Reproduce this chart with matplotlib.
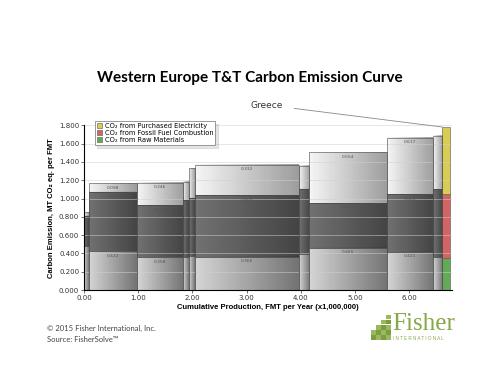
import numpy as np
import matplotlib.pyplot as plt
from matplotlib.colors import LinearSegmentedColormap
from matplotlib.patches import Patch, Rectangle

# capacity of each mill (million FMT/yr) and its CO2 breakdown (MT CO2 eq. per FMT)
capacity = [0.09, 0.88, 0.86, 0.11, 0.11, 1.91, 0.19, 1.44, 0.85, 0.17, 0.15]
raw_materials = [0.480, 0.422, 0.358, 0.360, 0.370, 0.366, 0.390, 0.465, 0.421, 0.360, 0.350]
fossil_fuel = [0.330, 0.646, 0.566, 0.620, 0.640, 0.669, 0.710, 0.486, 0.625, 0.740, 0.700]
electricity = [0.040, 0.098, 0.246, 0.200, 0.320, 0.332, 0.260, 0.554, 0.617, 0.580, 0.730]
show_values = [False, True, True, False, False, True, False, True, True, False, False]
highlight = "Greece"
highlight_idx = 10

legend_labels = ["CO\u2082 from Purchased Electricity",
                 "CO\u2082 from Fossil Fuel Combustion",
                 "CO\u2082 from Raw Materials"]
legend_colors = ["#d8cc55", "#d46464", "#62aa55"]

fig = plt.figure(figsize=(5, 3.9), dpi=100)
fig.patch.set_facecolor("white")
ax = fig.add_axes([0.168, 0.256, 0.735, 0.423])

cmaps = [
    LinearSegmentedColormap.from_list("raw", ["#d4d4d4", "#6c6c6c"]),
    LinearSegmentedColormap.from_list("fossil", ["#6a6a6a", "#3a3a3a"]),
    LinearSegmentedColormap.from_list("elec", ["#f6f6f6", "#989898"]),
]
grad = np.linspace(0, 1, 128).reshape(1, -1)

starts = np.concatenate([[0], np.cumsum(capacity)[:-1]])
for i, x0 in enumerate(starts):
    w = capacity[i]
    parts = [raw_materials[i], fossil_fuel[i], electricity[i]]
    bottom = 0.0
    for k, h in enumerate(parts):
        if i == highlight_idx:
            ax.add_patch(Rectangle((x0, bottom), w, h, facecolor=legend_colors[2 - k],
                                   edgecolor="#555555", lw=0.4, zorder=2))
        else:
            ax.imshow(grad, cmap=cmaps[k], extent=(x0, x0 + w, bottom, bottom + h),
                      aspect="auto", zorder=2, alpha=0.95)
            ax.add_patch(Rectangle((x0, bottom), w, h, facecolor="none",
                                   edgecolor="#4a4a4a", lw=0.4, zorder=3))
            if show_values[i]:
                ax.text(x0 + w / 2, bottom + h - 0.025, f"{h:.3f}", ha="center", va="top",
                        fontsize=3.2, color="#555555", zorder=4)
        bottom += h

ax.set_xlim(0, 6.78)
ax.set_ylim(0, 1.8)
ax.set_yticks(np.arange(0, 1.81, 0.2))
ax.set_yticklabels([f"{v:.3f}" for v in np.arange(0, 1.81, 0.2)])
ax.set_xticks(range(7))
ax.set_xticklabels([f"{v:.2f}" for v in range(7)])
ax.tick_params(labelsize=5, length=2, width=0.5, pad=1.5, colors="#333333")
ax.grid(axis="y", color="#d0d0d0", lw=0.6, alpha=0.6, zorder=5)
ax.set_axisbelow(False)
for s in ["top", "right"]:
    ax.spines[s].set_visible(False)
for s in ["left", "bottom"]:
    ax.spines[s].set_linewidth(0.8)
    ax.spines[s].set_zorder(6)

ax.set_ylabel("Carbon Emission, MT CO\u2082 eq. per FMT", fontsize=5.5, fontweight="bold",
              family="Liberation Sans", labelpad=3)
ax.set_xlabel("Cumulative Production, FMT per Year (x1,000,000)", fontsize=5.5,
              fontweight="bold", family="Liberation Sans", labelpad=2)

handles = [Patch(facecolor=c, edgecolor="#555555", lw=0.4) for c in legend_colors]
leg = ax.legend(handles, legend_labels, loc="upper left", bbox_to_anchor=(0.02, 1.045),
                fontsize=4.8, frameon=True, fancybox=False, handlelength=0.8, handleheight=0.8,
                handletextpad=0.4, labelspacing=0.15, borderpad=0.3, shadow={"alpha": 0.15})
leg.get_frame().set_edgecolor("#888888")
leg.get_frame().set_linewidth(0.6)
leg.set_zorder(10)

top_k = raw_materials[highlight_idx] + fossil_fuel[highlight_idx] + electricity[highlight_idx]
ax.annotate(highlight, xy=(starts[highlight_idx], top_k), xycoords="data",
            xytext=(267, 390 - 105), textcoords="figure pixels", ha="center", va="center",
            fontsize=6.5, color="#333333", annotation_clip=False,
            arrowprops=dict(arrowstyle="-", color="#888888", lw=0.6,
                            shrinkA=6, shrinkB=0))

fig.text(0.5, 1 - 78 / 390, "Western Europe T&T Carbon Emission Curve", ha="center",
         va="center", fontsize=11, fontweight="bold", family="Lato")

fig.text(47 / 500, 1 - 328 / 390, "\u00a9 2015 Fisher International, Inc.", fontsize=5.5,
         family="Lato", color="#444444", va="center")
fig.text(47 / 500, 1 - 340 / 390, "Source: FisherSolve\u2122", fontsize=5.5,
         family="Lato", color="#444444", va="center")

# logo
green = "#86a845"
fig.text(392 / 500, 1 - 330 / 390, "Fisher", fontsize=18, family="Liberation Serif",
         color=green, va="baseline", ha="left")
fig.text(393 / 500, 1 - 339 / 390, "I N T E R N A T I O N A L", fontsize=3.3,
         family="Liberation Sans", color=green, va="center", ha="left")
sq = 4.6
cols = [(371, 2), (376, 3), (381, 4), (386, 5)]
for cx, n in cols:
    for r in range(n):
        fig.patches.append(Rectangle((cx / 500, (390 - 340 + r * (sq + 0.6)) / 390),
                                     sq / 500, sq / 390, transform=fig.transFigure,
                                     facecolor="#9ab860" if (r + n) % 2 else "#7c9c3e",
                                     edgecolor="none"))

fig.savefig("out.png", dpi=100)
